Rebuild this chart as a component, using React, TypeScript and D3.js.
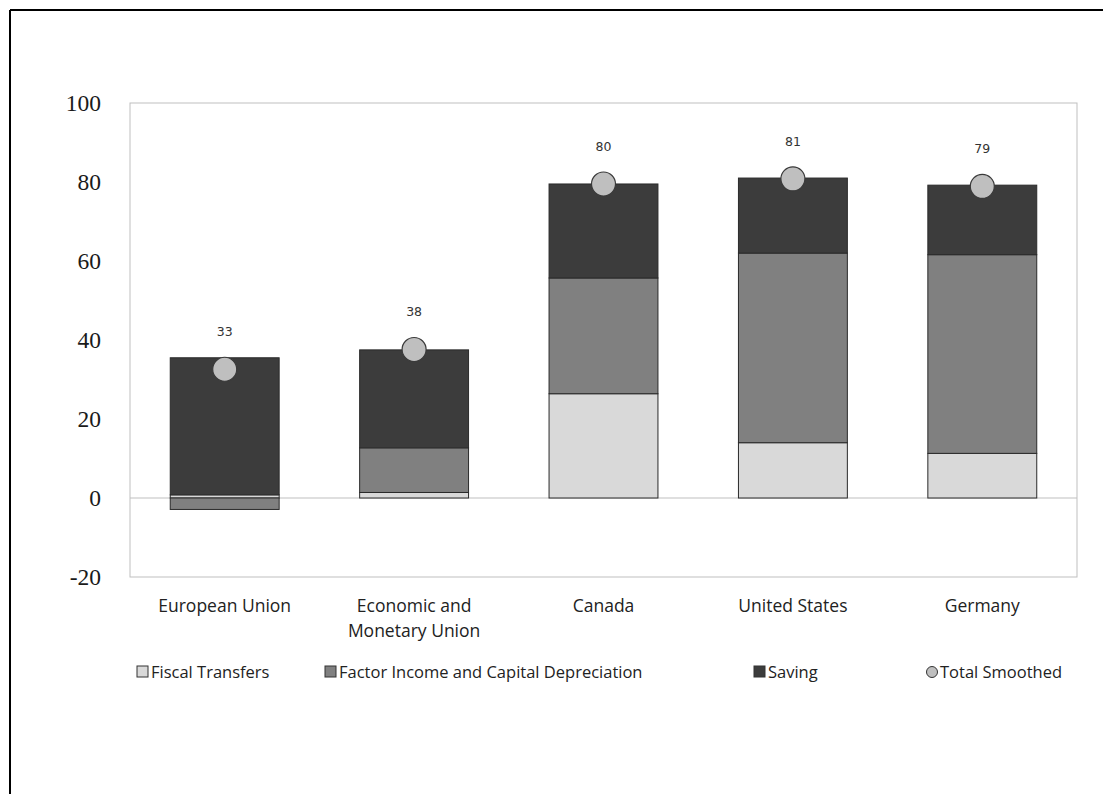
import React from "react";
import * as d3 from "d3";

// Contributions to income smoothing, by channel (percent)
const categories: string[][] = [
  ["European Union"],
  ["Economic and", "Monetary Union"],
  ["Canada"],
  ["United States"],
  ["Germany"],
];
const fiscalTransfers = [0.8, 1.4, 26.4, 14.0, 11.3];
const factorIncome = [-2.9, 11.3, 29.3, 48.0, 50.3];
const saving = [34.7, 24.8, 23.8, 19.0, 17.6];
const totalSmoothed = [32.6, 37.6, 79.5, 80.8, 78.9];
const yTicks = [-20, 0, 20, 40, 60, 80, 100];

const seriesNames = ["Fiscal Transfers", "Factor Income and Capital Depreciation", "Saving"];
const seriesColors = ["#d9d9d9", "#808080", "#3c3c3c"];

const W = 1107;
const H = 794;
const plot = { left: 130, right: 1077, top: 103, bottom: 577 };

export default function App() {
  const y = d3.scaleLinear().domain([-20, 100]).range([plot.bottom, plot.top]);
  const x = d3
    .scaleBand<number>()
    .domain(categories.map((_, i) => i))
    .range([plot.left, plot.right])
    .paddingInner(0.425)
    .paddingOuter(0.2125);

  const seriesValues = [fiscalTransfers, factorIncome, saving];

  // stack positive values upward from zero and negative values downward
  const segments: { i: number; s: number; y0: number; y1: number }[] = [];
  categories.forEach((_, i) => {
    let pos = 0;
    let neg = 0;
    seriesValues.forEach((vals, s) => {
      const v = vals[i];
      if (v >= 0) {
        segments.push({ i, s, y0: pos, y1: pos + v });
        pos += v;
      } else {
        segments.push({ i, s, y0: neg + v, y1: neg });
        neg += v;
      }
    });
  });

  const fmt = d3.format(".0f");
  const sansFont = "'Open Sans', 'Noto Sans', sans-serif";

  const legendItems = [
    { label: seriesNames[0], color: seriesColors[0], x: 137, shape: "rect" },
    { label: seriesNames[1], color: seriesColors[1], x: 325, shape: "rect" },
    { label: seriesNames[2], color: seriesColors[2], x: 754, shape: "rect" },
    { label: "Total Smoothed", color: "#bfbfbf", x: 926, shape: "circle" },
  ];

  return (
    <svg
      width={W}
      height={H}
      style={{ position: "absolute", left: 0, top: 0, background: "#fff" }}
    >
      {/* frame */}
      <line x1={10} y1={10} x2={1103} y2={10} stroke="#000" strokeWidth={2} />
      <line x1={10} y1={10} x2={10} y2={H} stroke="#000" strokeWidth={2} />

      {/* plot area */}
      <rect
        x={plot.left}
        y={plot.top}
        width={plot.right - plot.left}
        height={plot.bottom - plot.top}
        fill="none"
        stroke="#bfbfbf"
        strokeWidth={1}
      />
      <line
        x1={plot.left}
        x2={plot.right}
        y1={y(0)}
        y2={y(0)}
        stroke="#bfbfbf"
        strokeWidth={1}
      />

      {/* y tick labels */}
      {yTicks.map((t) => (
        <text
          key={t}
          x={101}
          y={y(t)}
          dy="0.35em"
          textAnchor="end"
          fontFamily="'Liberation Serif', serif"
          fontSize={23.5}
          fill="#1a1a1a"
        >
          {t}
        </text>
      ))}

      {/* stacked bars */}
      {segments.map((d, k) => (
        <rect
          key={k}
          x={x(d.i)!}
          y={y(d.y1)}
          width={x.bandwidth()}
          height={Math.max(0, y(d.y0) - y(d.y1))}
          fill={seriesColors[d.s]}
          stroke="#2a2a2a"
          strokeWidth={1}
        />
      ))}

      {/* total smoothed markers and labels */}
      {totalSmoothed.map((v, i) => {
        const cx = x(i)! + x.bandwidth() / 2;
        return (
          <g key={i}>
            <circle cx={cx} cy={y(v)} r={12} fill="#bfbfbf" stroke="#3a3a3a" strokeWidth={1.2} />
            <text
              x={cx}
              y={y(v) - 33}
              textAnchor="middle"
              fontFamily="'DejaVu Sans', sans-serif"
              fontSize={12.5}
              fill="#333"
            >
              {fmt(v)}
            </text>
          </g>
        );
      })}

      {/* category labels */}
      {categories.map((lines, i) => (
        <text
          key={i}
          x={x(i)! + x.bandwidth() / 2}
          y={612}
          textAnchor="middle"
          fontFamily={sansFont}
          fontSize={17.5}
          fill="#222"
        >
          {lines.map((l, j) => (
            <tspan key={j} x={x(i)! + x.bandwidth() / 2} dy={j === 0 ? 0 : 25}>
              {l}
            </tspan>
          ))}
        </text>
      ))}

      {/* legend */}
      {legendItems.map((it) => (
        <g key={it.label}>
          {it.shape === "rect" ? (
            <rect x={it.x} y={666} width={11} height={11} fill={it.color} stroke="#333" strokeWidth={1} />
          ) : (
            <circle cx={it.x + 6} cy={672} r={5.5} fill={it.color} stroke="#333" strokeWidth={1} />
          )}
          <text
            x={it.x + 14}
            y={672}
            dy="0.35em"
            fontFamily={sansFont}
            fontSize={16.5}
            fill="#222"
          >
            {it.label}
          </text>
        </g>
      ))}
    </svg>
  );
}
